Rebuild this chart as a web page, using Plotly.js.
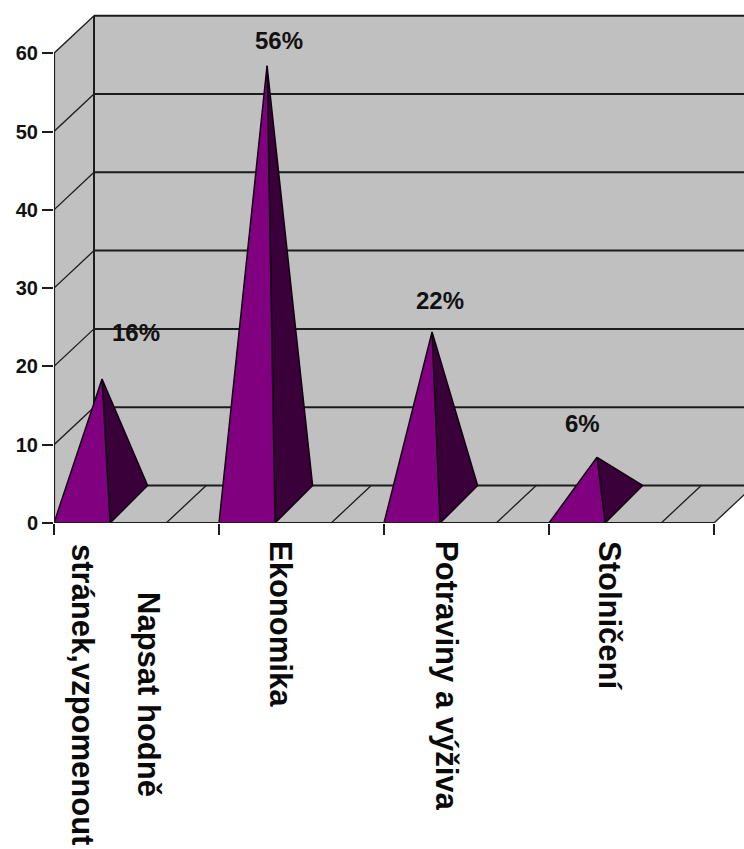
<!DOCTYPE html>
<html>
<head>
<meta charset="utf-8">
<script src="https://cdn.plot.ly/plotly-3.0.1.min.js"></script>
<style>html,body{margin:0;padding:0;background:#fff;overflow:hidden}#chart{width:744px;height:849px}</style>
</head>
<body>
<div id="chart"></div>
<script>
// Survey results, one pyramid per topic
const topics = ["Napsat hodně stránek,vzpomenout", "Ekonomika", "Potraviny a výživa", "Stolničení"];
const values = [16, 56, 22, 6];
const valueLabels = ["16%", "56%", "22%", "6%"];
const yTicks = [0, 10, 20, 30, 40, 50, 60];

// Oblique projection of the fake 3D box, in axis units
const depthX = 0.2424, depthY = 4.79;
const pyramidWidth = 0.34, pyramidBackInset = 0.015, floorDivider = 0.68;
const catCount = topics.length;
const yTop = 60;
const gridColor = "#1c1c1c";

const proj = (c, v, d) => [c + d * depthX, v + d * depthY];
function poly(points, fill, lineColor, lineWidth, clip) {
  return {
    x: points.map(p => p[0]), y: points.map(p => p[1]),
    type: "scatter", mode: "lines", hoverinfo: "skip", showlegend: false,
    fill: fill ? "toself" : "none", fillcolor: fill || undefined,
    line: {color: lineColor || "rgba(0,0,0,0)", width: lineWidth === undefined ? 2 : lineWidth},
    cliponaxis: clip === undefined ? true : clip
  };
}

const traces = [];
// Walls and floor
traces.push(poly([proj(0,0,1), proj(catCount,0,1), proj(catCount,yTop,1), proj(0,yTop,1)], "#c0c0c0"));
traces.push(poly([proj(0,0,0), proj(0,0,1), proj(0,yTop,1), proj(0,yTop,0)], "#c0c0c0"));
traces.push(poly([proj(0,0,0), proj(catCount,0,0), proj(catCount,0,1), proj(0,0,1)], "#c0c0c0"));

// Gridlines on both walls
yTicks.forEach(v => {
  traces.push(poly([proj(0,v,0), proj(0,v,1)], null, gridColor, 1.3));
  traces.push(poly([proj(0,v,1), proj(catCount,v,1)], null, gridColor, 2));
});
traces.push(poly([proj(0,0,1), proj(0,yTop,1)], null, gridColor, 2));

// Floor dividers and the right edge of the floor
for (let i = 0; i < catCount; i++) {
  traces.push(poly([proj(i + floorDivider,0,0), proj(i + floorDivider,0,1)], null, gridColor, 1.3));
}
traces.push(poly([proj(catCount,0,0), proj(catCount,0,1)], null, gridColor, 1.3));

// Pyramids
values.forEach((v, i) => {
  const fl = proj(i, 0, 0), fr = proj(i + pyramidWidth, 0, 0);
  const br = proj(i + pyramidWidth - pyramidBackInset, 0, 1);
  const apex = proj(i + pyramidWidth / 2, v, 0.5);
  traces.push(poly([br, apex, fr, br], "#3a003a", "#120012", 1.5));
  traces.push(poly([fl, fr, apex, fl], "#800080", "#120012", 1.5));
});

// Front axis lines
traces.push(poly([[0,0],[catCount,0]], null, gridColor, 2.2, false));
traces.push(poly([[0,0],[0,yTop]], null, gridColor, 2.2, false));

const sansFont = "Liberation Sans, Arial, sans-serif";
const labelShiftX = [34, 12, 8, -15];
const labelShiftY = [46, 25, 31, 34];
const annotations = values.map((v, i) => {
  const apex = proj(i + pyramidWidth / 2, v, 0.5);
  return {
    x: apex[0], y: apex[1], xref: "x", yref: "y", text: valueLabels[i], showarrow: false,
    xshift: labelShiftX[i], yshift: labelShiftY[i],
    font: {family: sansFont, size: 24, weight: 700, color: "#111"}
  };
});

// Rotated category captions; the first one wraps on two columns
const captionFont = {family: sansFont, size: 31, weight: 700, color: "#0a0a0a"};
const plotHeight = 523;
const caption = (text, x, xshift, top, anchor) => ({
  x, xref: "x", xshift, y: -top / plotHeight, yref: "paper", text,
  textangle: 90, showarrow: false, xanchor: "center", yanchor: anchor,
  font: captionFont
});
const firstWords = topics[0].split(" ");
annotations.push(caption(firstWords[0] + " " + firstWords[1], 0, 95, 171, "middle"));
annotations.push(caption(firstWords.slice(2).join(" "), 0, 29, 171, "middle"));
annotations.push(caption(topics[1], 1, 62, 16, "top"));
annotations.push(caption(topics[2], 2, 63, 16, "top"));
annotations.push(caption(topics[3], 3, 61, 16, "top"));

const layout = {
  width: 744, height: 849,
  margin: {l: 54, r: 0, t: 0, b: 326, pad: 0},
  paper_bgcolor: "#fff", plot_bgcolor: "#fff",
  showlegend: false,
  xaxis: {
    range: [0, 690 / 165], tickmode: "array", tickvals: [0, 1, 2, 3, 4], showticklabels: false,
    ticks: "outside", ticklen: 11, tickwidth: 2, tickcolor: gridColor,
    showgrid: false, zeroline: false, showline: false, fixedrange: true
  },
  yaxis: {
    range: [0, 523 / 7.83], tickmode: "array", tickvals: yTicks,
    ticks: "outside", ticklen: 11, tickwidth: 2, tickcolor: gridColor,
    tickfont: {family: sansFont, size: 20, weight: 700, color: "#111"},
    showgrid: false, zeroline: false, showline: false, fixedrange: true
  },
  annotations
};
Plotly.newPlot("chart", traces, layout, {displayModeBar: false, staticPlot: true});
</script>
</body>
</html>
